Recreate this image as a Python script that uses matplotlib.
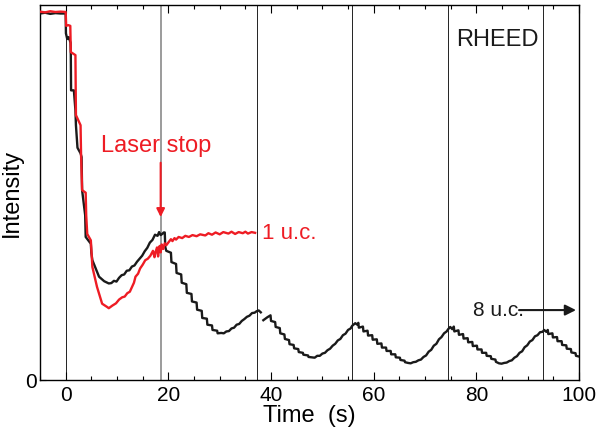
import matplotlib
matplotlib.use("Agg")
import matplotlib.pyplot as plt
import numpy as np

plt.rcParams['font.family'] = ['Liberation Sans', 'DejaVu Sans']

# ---- data ----
# 8 u.c. growth (black)
black_t = [-5, -4, -3, -2, -1, 0.0, 0.05, 0.3, 0.6, 0.95, 1.0, 1.05, 1.6, 1.9, 2.0, 2.3, 2.9, 3.1, 3.2,
           3.6, 3.8, 3.9, 4.9, 5.0, 5.2, 6.5, 7.5, 8.4,
           8.9, 9.4, 9.9, 10.4, 10.9, 11.4, 11.9, 12.4, 12.9, 13.4, 13.9, 14.4, 14.9, 15.4, 15.9, 16.4,
           16.9, 17.4, 17.9, 18.2, 18.5, 18.8, 19.1, 19.3, 19.4,
           19.6, 20.5, 20.6, 21.5, 21.6, 22.5, 22.6, 23.5, 23.6, 24.5, 24.6, 25.5, 25.6, 26.5, 26.6,
           27.5, 27.6, 28.5, 28.6, 29.5, 29.6, 30.3,
           30.8, 31.3, 31.8, 32.3, 32.8, 33.3, 33.8, 34.3, 34.8, 35.3, 35.8, 36.3, 36.8, 37.2, 37.6, 38.0, 38.2,
           38.5, 39.3, 39.9, 40.0, 40.8, 40.9, 41.7, 41.8, 42.6, 42.7, 43.5, 43.6, 44.4, 44.5, 45.3,
           45.4, 46.2, 46.3, 47.2, 47.3, 48.0,
           48.5, 49.0, 49.5, 50.0, 50.5, 51.0, 51.5, 52.0, 52.5, 53.0, 53.5, 54.0, 54.5, 55.0, 55.5,
           55.8, 56.4, 56.8, 57.0,
           57.1, 57.9, 58.0, 58.8, 58.9, 59.7, 59.8, 60.6, 60.7, 61.5, 61.6, 62.4, 62.5, 63.3, 63.4,
           64.2, 64.3, 65.1, 65.2, 66.0, 66.1, 66.7,
           67.2, 67.7, 68.2, 68.7, 69.2, 69.7, 70.2, 70.7, 71.2, 71.7, 72.2, 72.7, 73.2, 73.7, 74.2,
           74.5, 74.9, 75.3, 75.6,
           75.7, 76.5, 76.6, 77.4, 77.5, 78.3, 78.4, 79.2, 79.3, 80.1, 80.2, 81.0, 81.1, 81.9, 82.0,
           82.8, 82.9, 83.7, 83.8, 84.4,
           84.9, 85.4, 85.9, 86.4, 86.9, 87.4, 87.9, 88.4, 88.9, 89.4, 89.9, 90.4, 90.9, 91.4, 91.9,
           92.4, 92.9, 93.2, 93.6, 93.9,
           94.0, 94.8, 94.9, 95.7, 95.8, 96.6, 96.7, 97.5, 97.6, 98.4, 98.5, 99.3, 99.4, 100.0]
black_v = [97.8, 98.0, 97.7, 97.9, 97.8, 97.8, 92.5, 91.0, 91.5, 90.0, 86.7, 77.3, 77.3, 72.0, 68.0, 62.0, 60.5, 59.5, 50.7,
           46.2, 44.0, 38.2, 36.4, 34.0, 32.0, 27.6, 26.4, 25.8,
           25.9, 26.5, 26.3, 27.3, 28.0, 28.2, 29.2, 29.3, 30.3, 30.6, 31.6, 32.4, 33.2, 34.4, 35.3, 36.7,
           37.4, 38.8, 38.5, 39.5, 38.7, 39.0, 39.4, 39.4, 35.5,
           34.5, 34.0, 31.5, 31.0, 28.6, 28.2, 26.0, 25.6, 23.3, 23.0, 21.0, 20.7, 18.8, 18.5, 16.6,
           16.4, 14.8, 14.6, 13.4, 13.2, 12.5, 12.6,
           12.5, 13.0, 13.1, 13.8, 14.0, 14.8, 15.0, 15.8, 16.3, 16.9, 17.2, 17.9, 18.0, 18.4, 18.6, 18.1, np.nan,
           16.0, 16.8, 17.3, 15.8, 15.5, 14.2, 13.9, 12.5, 12.2, 11.0, 10.7, 9.6, 9.4, 8.5, 8.3,
           7.5, 7.3, 6.8, 6.6, 6.2, 6.1,
           6.0, 6.5, 6.5, 7.1, 7.3, 8.0, 8.4, 9.2, 9.7, 10.6, 11.0, 12.0, 12.4, 13.4, 13.8,
           14.5, 15.2, 14.8, 15.3,
           14.0, 14.3, 13.0, 13.2, 11.9, 12.0, 10.8, 10.9, 9.7, 9.8, 8.7, 8.7, 7.8, 7.8, 6.9,
           6.9, 6.1, 6.0, 5.4, 5.2, 4.8, 4.6,
           4.5, 4.8, 4.9, 5.3, 5.5, 6.2, 6.6, 7.6, 8.1, 9.2, 9.7, 10.9, 11.5, 12.5, 13.0,
           13.6, 14.2, 13.6, 14.3,
           13.0, 13.3, 12.1, 12.3, 11.1, 11.2, 10.1, 10.2, 9.1, 9.2, 8.2, 8.2, 7.3, 7.3, 6.5,
           6.4, 5.7, 5.5, 4.9, 4.5,
           4.4, 4.6, 4.7, 5.1, 5.3, 6.0, 6.4, 7.3, 7.7, 8.8, 9.3, 10.3, 10.7, 11.7, 12.0,
           12.8, 12.9, 13.4, 12.9, 13.4,
           12.3, 12.5, 11.4, 11.5, 10.4, 10.4, 9.4, 9.3, 8.4, 8.3, 7.4, 7.2, 6.5, 6.3]

# 1 u.c. growth (red)
red_t = [-5, -4, -3, -2, -1, 0.0, 0.1, 0.5, 0.9, 1.0, 1.9, 2.0, 2.9, 3.0, 3.2, 3.9, 4.0, 4.2, 4.9,
         5.2, 6.1, 7.1, 8.1, 8.4, 9.1, 9.8, 10.4, 11.0, 11.5, 12.0, 12.5, 12.9, 13.3, 13.6, 14.1, 14.5,
         15.0, 15.5, 16.0, 16.5, 17.0, 17.3, 17.5,
         17.8, 18.0, 18.3, 18.5, 18.7, 19.0, 19.3, 19.6, 20.1, 20.5, 20.8, 21.2, 21.5, 22.0, 22.7, 23.3,
         24.0, 24.7, 25.5, 26.2, 27.2, 27.8, 28.5, 29.2, 30.0, 30.7, 31.7, 32.3, 33.0, 33.7, 34.5,
         35.0, 35.5, 36.2, 36.9]
red_v = [98.3, 98.1, 98.4, 98.2, 98.3, 98.2, 94.5, 94.7, 94.5, 87.5, 86.7, 70.7, 68.0, 60.0, 50.7, 50.0, 44.0, 39.0, 37.3,
         30.2, 24.9, 20.4, 19.5, 19.2, 19.9, 20.5, 21.5, 22.1, 22.3, 23.2, 23.6, 24.8, 26.0, 27.6, 28.4, 29.8,
         30.8, 32.0, 32.4, 33.2, 34.5, 32.8, 34.2,
         35.4, 33.0, 35.8, 34.1, 36.2, 35.0, 36.5, 36.0, 36.9, 37.6, 37.1, 37.9, 37.5, 38.2, 37.9, 38.5,
         38.2, 38.7, 38.4, 38.9, 38.6, 39.2, 38.8, 39.4, 38.9, 39.5, 39.1, 39.6, 39.0, 39.5, 39.2,
         39.6, 39.1, 39.5, 39.3]

# monolayer completion markers (s)
layer_times = [0.0, 18.6, 37.2, 55.8, 74.4, 93.0]

x_ticks = [0, 20, 40, 60, 80, 100]

# ---- figure ----
fig = plt.figure(figsize=(5.97, 4.37), dpi=100)
ax = fig.add_axes([0.067, 0.130, 0.903, 0.858])

for i, lt in enumerate(layer_times):
    if i == 1:
        ax.axvline(lt, color='#8a8a8a', lw=1.2, zorder=1)
    else:
        ax.axvline(lt, color='#222222', lw=0.7, zorder=1)

ax.plot(black_t, black_v, color='#1a1a1a', lw=1.7, zorder=3)
ax.plot(red_t, red_v, color='#ee1c24', lw=1.7, zorder=4)

ax.set_xlim(-5, 100)
ax.set_ylim(0, 100)
ax.set_xticks(x_ticks)
ax.set_xticks(np.arange(-5, 101, 5), minor=True)
ax.set_yticks([0])
ax.set_yticklabels(['0'])
ax.tick_params(axis='x', which='major', direction='in', length=6, width=0.8,
               top=True, labelsize=15, pad=4)
ax.tick_params(axis='x', which='minor', direction='in', length=3, width=0.8, top=True)
ax.tick_params(axis='y', which='major', direction='in', length=4, width=0.8,
               labelsize=15, pad=2)
for s in ax.spines.values():
    s.set_linewidth(1.0)

ax.set_xlabel('Time  (s)', fontsize=17, labelpad=0)
ax.set_ylabel('Intensity', fontsize=17, labelpad=2)

# annotations
ax.text(17.6, 62.4, 'Laser stop', color='#ee1c24', fontsize=17, ha='center', va='center')
ax.annotate('', xy=(18.5, 43.5), xytext=(18.5, 58.0),
            arrowprops=dict(arrowstyle='-|>', color='#ee1c24', lw=1.5,
                            mutation_scale=12, shrinkA=0, shrinkB=0))
ax.text(38.2, 39.2, '1 u.c.', color='#ee1c24', fontsize=16, ha='left', va='center')
ax.text(79.4, 18.7, '8 u.c.', color='#1a1a1a', fontsize=15, ha='left', va='center')
ax.annotate('', xy=(99.4, 18.7), xytext=(88.3, 18.7),
            arrowprops=dict(arrowstyle='-|>', color='#1a1a1a', lw=1.5,
                            mutation_scale=16, shrinkA=0, shrinkB=0))
ax.text(84.0, 90.7, 'RHEED', color='#1a1a1a', fontsize=17, ha='center', va='center')

fig.savefig('out.png', dpi=100)
